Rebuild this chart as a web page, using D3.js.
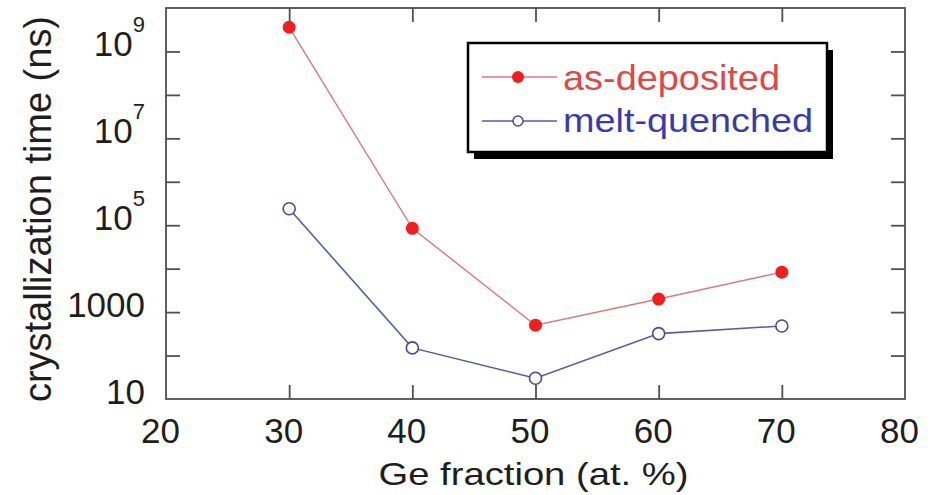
<!DOCTYPE html>
<html><head><meta charset="utf-8">
<script src="https://cdn.jsdelivr.net/npm/d3@7"></script>
<style>
html,body{margin:0;padding:0;background:#fff;}
svg{display:block;font-family:"Liberation Sans",Arial,sans-serif;}
</style></head>
<body><svg id="c" width="940" height="495"></svg>
<script>
// ---- data ----
const geFraction = [30, 40, 50, 60, 70];
const asDeposited = [3.6e9, 8.5e4, 500, 2000, 8300];
const meltQuenched = [2.4e5, 150, 30, 320, 480];
const xTickValues = [20, 30, 40, 50, 60, 70, 80];
const xInnerTicks = [30, 40, 50, 60, 70];
const yLabelValues = [10, 1000, 1e5, 1e7, 1e9];
const yLabelBase = ["10", "1000", "10", "10", "10"];
const yLabelSup = ["", "", "5", "7", "9"];
const yInnerTicks = [1e2, 1e3, 1e4, 1e5, 1e6, 1e7, 1e8, 1e9];
const seriesNames = ["as-deposited", "melt-quenched"];
const xTitle = "Ge fraction (at. %)";
const yTitle = "crystallization time (ns)";

// ---- layout ----
const L = 166, R = 905, T = 8, B = 399;
const svg = d3.select("#c");
const x = d3.scaleLinear().domain([20, 80]).range([L, R]);
const y = d3.scaleLog().domain([10, 1e10]).range([B, T]);

const frameCol = "#505050", textCol = "#1e1e1e";
const redLine = "#d97a7a", redMark = "#f01e1e", redText = "#e04848";
const blueLine = "#5a5aa6", blueMark = "#4848a0", blueText = "#3a3aac";

// frame
svg.append("rect").attr("x", x(20)).attr("y", y(1e10))
  .attr("width", x(80) - x(20)).attr("height", y(10) - y(1e10))
  .attr("fill", "none").attr("stroke", frameCol).attr("stroke-width", 1.8);

function styleAxis(g) {
  g.select(".domain").remove();
  g.selectAll(".tick line").attr("stroke", frameCol).attr("stroke-width", 1.8);
}
// inner ticks
svg.append("g").attr("transform", `translate(0,${B})`)
  .call(d3.axisBottom(x).tickValues(xInnerTicks).tickSizeInner(-14).tickFormat(""))
  .call(styleAxis);
svg.append("g").attr("transform", `translate(0,${T})`)
  .call(d3.axisTop(x).tickValues(xInnerTicks).tickSizeInner(-14).tickFormat(""))
  .call(styleAxis);
svg.append("g").attr("transform", `translate(${L},0)`)
  .call(d3.axisLeft(y).tickValues(yInnerTicks).tickSizeInner(-14).tickFormat(""))
  .call(styleAxis);
svg.append("g").attr("transform", `translate(${R},0)`)
  .call(d3.axisRight(y).tickValues(yInnerTicks).tickSizeInner(-14).tickFormat(""))
  .call(styleAxis);

// x tick labels
const xl = svg.append("g").attr("transform", `translate(-6,${B})`)
  .call(d3.axisBottom(x).tickValues(xTickValues).tickSize(0).tickPadding(0).tickFormat(d3.format("d")));
xl.select(".domain").remove();
xl.selectAll(".tick text").attr("y", 44).attr("dy", null)
  .attr("font-size", 35).attr("fill", textCol).attr("font-family", "Liberation Sans, Arial, sans-serif");

// y tick labels
const yl = svg.append("g").attr("transform", `translate(${L},0)`)
  .call(d3.axisLeft(y).tickValues(yLabelValues).tickSize(0).tickPadding(0).tickFormat(""));
yl.select(".domain").remove();
yl.selectAll(".tick text").each(function (d, i) {
  const t = d3.select(this).attr("x", -21).attr("y", 4).attr("dy", null)
    .attr("text-anchor", "end").attr("font-size", 35).attr("fill", textCol)
    .attr("font-family", "Liberation Sans, Arial, sans-serif");
  t.text(null);
  t.append("tspan").text(yLabelBase[i]);
  if (yLabelSup[i]) t.append("tspan").attr("font-size", 22).attr("dy", -24).text(yLabelSup[i]);
});

// axis titles
svg.append("text").attr("x", (L + R) / 2 - 2).attr("y", 485)
  .attr("text-anchor", "middle").attr("font-size", 32).attr("fill", textCol)
  .attr("textLength", 310).attr("lengthAdjust", "spacingAndGlyphs").text(xTitle);
svg.append("text").attr("transform", "translate(51,209) rotate(-90)")
  .attr("text-anchor", "middle").attr("font-size", 39).attr("fill", textCol)
  .attr("textLength", 386).attr("lengthAdjust", "spacingAndGlyphs").text(yTitle);

// series
const line = d3.line().x(d => x(d[0])).y(d => y(d[1]));
const redData = geFraction.map((g, i) => [g, asDeposited[i]]);
const blueData = geFraction.map((g, i) => [g, meltQuenched[i]]);

svg.append("path").datum(redData).attr("d", line).attr("fill", "none")
  .attr("stroke", redLine).attr("stroke-width", 1.4);
svg.append("path").datum(blueData).attr("d", line).attr("fill", "none")
  .attr("stroke", blueLine).attr("stroke-width", 1.6);

svg.append("g").selectAll("circle").data(redData).join("circle")
  .attr("cx", d => x(d[0])).attr("cy", d => y(d[1])).attr("r", 6.5).attr("fill", redMark);
svg.append("g").selectAll("circle").data(blueData).join("circle")
  .attr("cx", d => x(d[0])).attr("cy", d => y(d[1])).attr("r", 6)
  .attr("fill", "#fff").attr("stroke", blueMark).attr("stroke-width", 1.6);

// legend
const lg = svg.append("g");
lg.append("rect").attr("x", 474).attr("y", 50).attr("width", 359).attr("height", 109).attr("fill", "#000");
lg.append("rect").attr("x", 468).attr("y", 43).attr("width", 359).attr("height", 109)
  .attr("fill", "#fff").attr("stroke", "#000").attr("stroke-width", 2.5);

const legendItems = [
  {name: seriesNames[0], ly: 77, ty: 90, fs: 35, tl: 217, lc: redLine, tc: redText, filled: true},
  {name: seriesNames[1], ly: 121, ty: 132, fs: 33, tl: 250, lc: blueLine, tc: blueText, filled: false}
];
legendItems.forEach(it => {
  lg.append("line").attr("x1", 482).attr("x2", 557).attr("y1", it.ly).attr("y2", it.ly)
    .attr("stroke", it.lc).attr("stroke-width", 1.5);
  if (it.filled) lg.append("circle").attr("cx", 518).attr("cy", it.ly).attr("r", 6).attr("fill", redMark);
  else lg.append("circle").attr("cx", 518).attr("cy", it.ly).attr("r", 5)
    .attr("fill", "#fff").attr("stroke", blueMark).attr("stroke-width", 1.5);
  lg.append("text").attr("x", 563).attr("y", it.ty).attr("font-size", it.fs).attr("fill", it.tc)
    .attr("textLength", it.tl).attr("lengthAdjust", "spacingAndGlyphs").text(it.name);
});
</script></body></html>
